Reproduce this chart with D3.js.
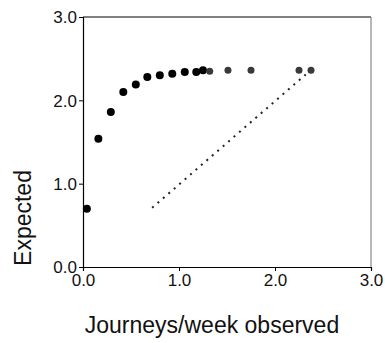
<!DOCTYPE html>
<html lang="en">
<head>
<meta charset="UTF-8">
<title>Expected vs observed journeys</title>
<script src="https://d3js.org/d3.v7.min.js"></script>
<style>
  body { margin: 0; background: #fff; }
  svg { display: block; }
  text { font-family: "Liberation Sans", Arial, sans-serif; }
</style>
</head>
<body>
<svg id="chart" width="385" height="343"></svg>
<script>
// observed journeys/week vs expected
const observed = [0.04, 0.16, 0.29, 0.42, 0.55, 0.67, 0.80, 0.93, 1.06, 1.18, 1.25, 1.32, 1.51, 1.75, 2.25, 2.375];
const expected = [0.70, 1.54, 1.86, 2.10, 2.19, 2.28, 2.30, 2.32, 2.34, 2.34, 2.36, 2.35, 2.36, 2.36, 2.36, 2.36];
const lighter  = [0, 0, 0, 0, 0, 0, 0, 0, 0, 0, 0, 1, 1, 1, 1, 1];
// the dotted reference line (y = x)
const refLine = [[0.72, 0.71], [2.32, 2.31]];
const ticks = [0, 1, 2, 3];

const svg = d3.select("#chart");
const mLeft = 83, mRight = 371, mTop = 17, mBottom = 267;
const font = "'Liberation Sans', Arial, sans-serif";

const x = d3.scaleLinear().domain([0, 3]).range([mLeft, mRight]);
const y = d3.scaleLinear().domain([0, 3]).range([mBottom, mTop]);

// frame: top black, right grey
svg.append("line").attr("x1", mLeft).attr("x2", mRight).attr("y1", mTop).attr("y2", mTop)
  .attr("stroke", "#000").attr("stroke-width", 1);
svg.append("line").attr("x1", mRight).attr("x2", mRight).attr("y1", mTop).attr("y2", mBottom)
  .attr("stroke", "#888").attr("stroke-width", 1.2);

const xAxis = svg.append("g")
  .attr("transform", `translate(0,${mBottom})`)
  .call(d3.axisBottom(x).tickValues(ticks).tickFormat(d3.format(".1f")).tickSize(4).tickPadding(3));
const yAxis = svg.append("g")
  .attr("transform", `translate(${mLeft},0)`)
  .call(d3.axisLeft(y).tickValues(ticks).tickFormat(d3.format(".1f")).tickSize(4).tickPadding(2));

[xAxis, yAxis].forEach(g => {
  g.attr("font-family", font);
  g.select(".domain").attr("stroke", "#000").attr("stroke-width", 1.2);
  g.selectAll(".tick line").attr("stroke", "#000");
  g.selectAll("text")
    .attr("font-family", font)
    .attr("font-size", "17px")
    .attr("fill", "#111");
});
yAxis.selectAll("text").attr("dy", "0.35em");

// dotted line
svg.append("path")
  .attr("d", d3.line().x(d => x(d[0])).y(d => y(d[1]))(refLine))
  .attr("fill", "none")
  .attr("stroke", "#222")
  .attr("stroke-width", 2)
  .attr("stroke-dasharray", "2,5.2");

// points
svg.selectAll(".pt")
  .data(observed.map((v, i) => ({ o: v, e: expected[i], l: lighter[i] })))
  .enter().append("circle")
  .attr("class", "pt")
  .attr("cx", d => x(d.o))
  .attr("cy", d => y(d.e))
  .attr("r", d => d.l ? 3.5 : 4)
  .attr("fill", d => d.l ? "#3a3a3a" : "#000");

// axis titles
svg.append("text")
  .attr("x", 212)
  .attr("y", 333)
  .attr("text-anchor", "middle")
  .attr("font-family", font)
  .attr("font-size", "23px")
  .attr("fill", "#111")
  .text("Journeys/week observed");

svg.append("text")
  .attr("transform", "translate(31,218) rotate(-90)")
  .attr("text-anchor", "middle")
  .attr("font-family", font)
  .attr("font-size", "23px")
  .attr("fill", "#111")
  .text("Expected");
</script>
</body>
</html>
